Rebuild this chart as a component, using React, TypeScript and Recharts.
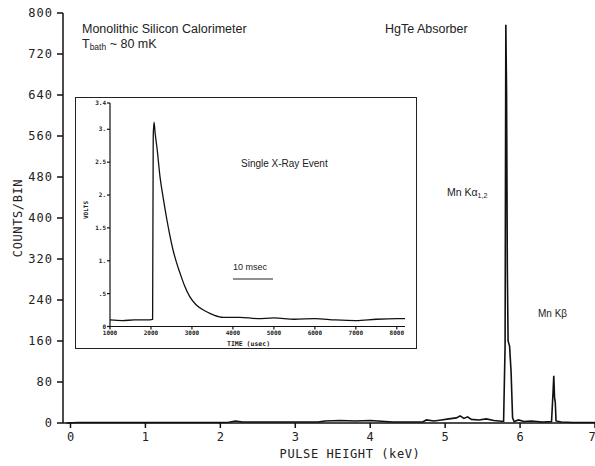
import React from 'react';
import { LineChart, Line, XAxis, YAxis } from 'recharts';

// main spectrum (pulse height in keV vs counts per bin)
const energyKeV = [-0.05, 0.1, 0.6, 1.0, 1.6, 2.1, 2.2, 2.3, 2.6, 3.0, 3.3, 3.4, 3.6, 3.8, 4.0, 4.2, 4.3, 4.7, 4.75, 4.85, 4.95, 5.05, 5.15, 5.2, 5.25, 5.3, 5.35, 5.45, 5.55, 5.65, 5.72, 5.78, 5.8, 5.81, 5.82, 5.83, 5.84, 5.86, 5.88, 5.9, 5.92, 5.98, 6.05, 6.15, 6.3, 6.42, 6.44, 6.45, 6.46, 6.47, 6.48, 6.55, 6.7, 7.0];
const countsPerBin = [0, 1, 1, 1, 1, 1, 4, 2, 2, 2, 2, 4, 5, 4, 5, 3, 2, 2, 6, 4, 6, 8, 10, 14, 9, 12, 7, 6, 8, 5, 4, 3, 150, 777, 640, 300, 160, 150, 100, 10, 3, 6, 3, 4, 2, 3, 60, 92, 50, 40, 4, 2, 1, 1];
const kevTicks = [0, 1, 2, 3, 4, 5, 6, 7];
const countTicks = [0, 80, 160, 240, 320, 400, 480, 560, 640, 720, 800];

// inset: single x-ray event pulse
const timeUs = [1000, 1300, 1600, 1900, 2040, 2055, 2075, 2100, 2150, 2220, 2300, 2390, 2450, 2540, 2620, 2710, 2820, 2950, 3100, 3370, 3550, 3760, 4170, 4600, 5000, 5500, 6000, 6500, 7000, 7500, 8000, 8200];
const volts = [0.1, 0.09, 0.1, 0.1, 0.11, 2.9, 3.11, 2.95, 2.7, 2.28, 1.95, 1.62, 1.42, 1.16, 0.98, 0.81, 0.62, 0.45, 0.33, 0.22, 0.17, 0.14, 0.14, 0.12, 0.13, 0.11, 0.12, 0.1, 0.09, 0.11, 0.12, 0.12];
const timeTicks = [1000, 2000, 3000, 4000, 5000, 6000, 7000, 8000];
const voltTicks = [0, 0.5, 1, 1.5, 2, 2.5, 3, 3.4];

const spectrum = energyKeV.map((kev, i) => ({ kev, counts: countsPerBin[i] }));
const pulse = timeUs.map((t, i) => ({ t, v: volts[i] }));

const mono = 'DejaVu Sans Mono';
const sans = 'Liberation Sans';

const fmtVolt = (v: number) => {
    if (v === 0) return '0';
    const s = String(v);
    if (s.startsWith('0.')) return s.slice(1);
    return Number.isInteger(v) ? `${v}.` : s;
};

export default function App() {
    return (
        <div style={{ position: 'absolute', left: 0, top: 0, width: 595, height: 466, background: '#fff', overflow: 'hidden' }}>
            <LineChart width={595} height={466} data={spectrum} margin={{ top: 13, right: 0, left: 0, bottom: 0 }}>
                <XAxis
                    dataKey="kev"
                    type="number"
                    domain={[-0.1, 7]}
                    ticks={kevTicks}
                    allowDataOverflow
                    height={43}
                    stroke="#111"
                    strokeWidth={1.5}
                    tickSize={5}
                    tickMargin={4}
                    tick={{ fill: '#222', fontSize: 12, fontFamily: mono }}
                />
                <YAxis
                    type="number"
                    domain={[0, 800]}
                    ticks={countTicks}
                    width={63}
                    stroke="#111"
                    strokeWidth={1.5}
                    tickSize={6}
                    tickMargin={4}
                    tick={{ fill: '#222', fontSize: 12, fontFamily: mono, letterSpacing: 1 }}
                />
                <Line dataKey="counts" type="linear" stroke="#111" strokeWidth={1.6} dot={false} isAnimationActive={false} />
            </LineChart>

            {/* inset frame */}
            <div style={{ position: 'absolute', left: 75, top: 97, width: 340, height: 250, border: '1.5px solid #222', background: '#fff' }} />
            <div style={{ position: 'absolute', left: 75, top: 97 }}>
                <LineChart width={342} height={252} data={pulse} margin={{ top: 6, right: 12, left: 0, bottom: 0 }}>
                    <XAxis
                        dataKey="t"
                        type="number"
                        domain={[1000, 8200]}
                        ticks={timeTicks}
                        allowDataOverflow
                        height={22.5}
                        stroke="#111"
                        strokeWidth={1.2}
                        tickSize={3}
                        tickMargin={1}
                        tick={{ fill: '#222', fontSize: 6, fontWeight: 'bold', fontFamily: mono }}
                    />
                    <YAxis
                        type="number"
                        domain={[0, 3.4]}
                        ticks={voltTicks}
                        tickFormatter={fmtVolt}
                        width={35}
                        stroke="#111"
                        strokeWidth={1.2}
                        tickSize={3}
                        tickMargin={1}
                        tick={{ fill: '#222', fontSize: 6, fontWeight: 'bold', fontFamily: mono }}
                    />
                    <Line dataKey="v" type="monotone" stroke="#111" strokeWidth={1.3} dot={false} isAnimationActive={false} />
                </LineChart>
            </div>

            {/* annotations */}
            <svg width={595} height={466} style={{ position: 'absolute', left: 0, top: 0, pointerEvents: 'none' }}>
                <text x={82} y={33} fontFamily={sans} fontSize={12.5} fill="#222">Monolithic Silicon Calorimeter</text>
                <text x={82} y={48} fontFamily={sans} fontSize={12.5} fill="#222">
                    T<tspan fontSize={8.5} dy={2}>bath</tspan><tspan dy={-2}> ~ 80 mK</tspan>
                </text>
                <text x={385} y={33} fontFamily={sans} fontSize={12.5} fill="#222">HgTe Absorber</text>
                <text x={447} y={196} fontFamily={sans} fontSize={10.5} fill="#222">
                    Mn Kα<tspan fontSize={7} dy={2}>1,2</tspan>
                </text>
                <text x={538} y={317} fontFamily={sans} fontSize={10} fill="#222">Mn Kβ</text>
                <text x={241} y={167} fontFamily={sans} fontSize={10} fill="#222">Single X-Ray Event</text>
                <text x={233} y={270} fontFamily={sans} fontSize={9} fill="#222">10 msec</text>
                <line x1={233} y1={279} x2={273} y2={279} stroke="#222" strokeWidth={1.2} />
                <text x={227} y={346} fontFamily={mono} fontSize={6.5} fontWeight="bold" fill="#222">TIME (usec)</text>
                <text x={88} y={210} fontFamily={mono} fontSize={6} fontWeight="bold" fill="#222" textAnchor="middle" transform="rotate(-90 88 210)">VOLTS</text>
                <text x={350} y={458} fontFamily={mono} fontSize={12} fill="#222" textAnchor="middle" letterSpacing={0.6}>PULSE HEIGHT (keV)</text>
                <text x={22} y={218} fontFamily={mono} fontSize={12} fill="#222" textAnchor="middle" letterSpacing={0.6} transform="rotate(-90 22 218)">COUNTS/BIN</text>
            </svg>
        </div>
    );
}
